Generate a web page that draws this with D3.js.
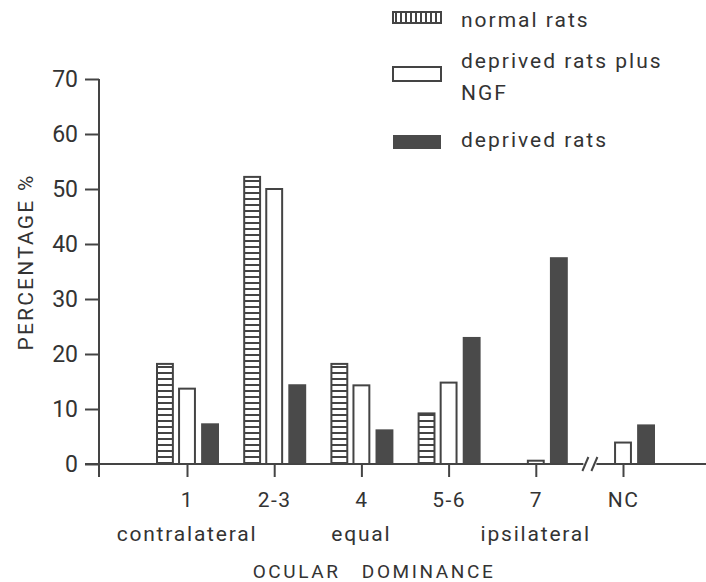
<!DOCTYPE html>
<html>
<head>
<meta charset="utf-8">
<script src="https://cdn.jsdelivr.net/npm/d3@7"></script>
<style>
  body { margin: 0; background: #fff; }
  svg { display: block; font-family: Roboto, "Liberation Sans", sans-serif; }
  text { fill: #333; }
</style>
</head>
<body>
<svg id="chart" width="706" height="582"></svg>
<script>
// values (percent of cells)
var categories = ['1', '2-3', '4', '5-6', '7', 'NC'];
var series = ['normal', 'ngf', 'deprived'];
var normalRats = [18.2, 52.2, 18.2, 9.2, null, null];
var ngfRats = [13.7, 50.0, 14.3, 14.8, 0.6, 3.9];
var deprivedRats = [7.4, 14.5, 6.3, 23.1, 37.6, 7.2];
var yTicks = [0, 10, 20, 30, 40, 50, 60, 70];
var groupLabels = [['1', 'contralateral'], ['4', 'equal'], ['7', 'ipsilateral']];
var legendLabels = [['normal rats'], ['deprived rats plus', 'NGF'], ['deprived rats']];

var ink = '#444';
var svg = d3.select('#chart');

var y = d3.scaleLinear().domain([0, 70]).range([464, 79]);
var x = d3.scalePoint().domain(categories).range([187, 623]);
var xs = d3.scaleBand().domain(series).range([-30, 30]).paddingInner(0.28);

// stripe patterns: horizontal rungs for bars, vertical for the legend key
var defs = svg.append('defs');
defs.append('pattern').attr('id', 'rungs').attr('patternUnits', 'userSpaceOnUse')
  .attr('width', 8).attr('height', 6)
  .append('rect').attr('width', 8).attr('height', 2).attr('fill', ink);
defs.append('pattern').attr('id', 'rungsV').attr('patternUnits', 'userSpaceOnUse')
  .attr('width', 5).attr('height', 8)
  .append('rect').attr('width', 2).attr('height', 8).attr('fill', ink);

function fillFor(s, legend) {
  if (s === 'normal') return legend ? 'url(#rungsV)' : 'url(#rungs)';
  if (s === 'ngf') return '#fff';
  return '#4a4a4a';
}

// y axis
var yAxis = svg.append('g').attr('transform', 'translate(99,0)')
  .call(d3.axisLeft(y).tickValues(yTicks).tickSize(14).tickPadding(7).tickSizeOuter(0));
yAxis.select('.domain').remove();
yAxis.selectAll('line').attr('stroke', ink).attr('stroke-width', 2);
yAxis.selectAll('text').attr('font-size', 23).attr('fill', '#333')
  .attr('font-family', 'Roboto, sans-serif');
svg.append('line').attr('x1', 99).attr('x2', 99).attr('y1', y(70)).attr('y2', 477)
  .attr('stroke', ink).attr('stroke-width', 2);

// bars
var rows = [];
categories.forEach(function(c, i) {
  [normalRats, ngfRats, deprivedRats].forEach(function(arr, j) {
    if (arr[i] != null) rows.push({cat: c, s: series[j], v: arr[i]});
  });
});
svg.append('g').selectAll('rect').data(rows).enter().append('rect')
  .attr('x', function(d) { return x(d.cat) + xs(d.s); })
  .attr('width', function(d) { return d.s === 'deprived' ? xs.bandwidth() + 2 : xs.bandwidth(); })
  .attr('y', function(d) { return y(d.v); })
  .attr('height', function(d) { return y(0) - y(d.v); })
  .attr('fill', function(d) { return fillFor(d.s, false); })
  .attr('stroke', function(d) { return d.s === 'deprived' ? 'none' : ink; })
  .attr('stroke-width', 2);

// x axis baseline with break before NC
var brk = (x('7') + x('NC')) / 2 + 11;
svg.append('line').attr('x1', 85).attr('x2', brk - 7).attr('y1', y(0)).attr('y2', y(0))
  .attr('stroke', ink).attr('stroke-width', 2);
svg.append('line').attr('x1', brk + 6).attr('x2', 706).attr('y1', y(0)).attr('y2', y(0))
  .attr('stroke', ink).attr('stroke-width', 2);
[-5, 4].forEach(function(o) {
  svg.append('line').attr('x1', brk + o - 3).attr('x2', brk + o + 3)
    .attr('y1', y(0) + 7).attr('y2', y(0) - 7).attr('stroke', ink).attr('stroke-width', 2);
});

var xAxis = svg.append('g').attr('transform', 'translate(0,' + y(0) + ')')
  .call(d3.axisBottom(x).tickSize(13).tickPadding(15).tickSizeOuter(0));
xAxis.select('.domain').remove();
xAxis.selectAll('line').attr('stroke', ink).attr('stroke-width', 2);
xAxis.selectAll('text').attr('font-size', 21).attr('fill', '#333')
  .attr('font-family', 'Roboto, sans-serif').attr('letter-spacing', 1.5);

svg.append('g').selectAll('text').data(groupLabels).enter().append('text')
  .attr('x', function(d) { return x(d[0]); })
  .attr('y', 541).attr('text-anchor', 'middle')
  .attr('font-size', 21).attr('letter-spacing', 1.8)
  .text(function(d) { return d[1]; });

// axis titles
svg.append('text').attr('transform', 'translate(33,262) rotate(-90)')
  .attr('text-anchor', 'middle').attr('font-size', 21).attr('letter-spacing', 2.2)
  .text('PERCENTAGE %');
svg.append('text').attr('x', 374).attr('y', 578).attr('text-anchor', 'middle')
  .attr('font-size', 19).attr('letter-spacing', 2.6).attr('word-spacing', 14)
  .text('OCULAR DOMINANCE');

// legend
var keyTop = [12, 67, 135];
var key = svg.append('g').selectAll('g').data(series).enter().append('g');
key.append('rect')
  .attr('x', 393).attr('y', function(d, i) { return keyTop[i]; })
  .attr('width', 48).attr('height', function(d, i) { return i === 0 ? 11 : 14; })
  .attr('fill', function(d) { return fillFor(d, true); })
  .attr('stroke', function(d) { return d === 'deprived' ? 'none' : ink; })
  .attr('stroke-width', 2);
key.each(function(d, i) {
  var t = d3.select(this).append('text').attr('x', 461).attr('font-size', 21)
    .attr('letter-spacing', 2);
  var base = [27, 68, 147][i];
  legendLabels[i].forEach(function(line, k) {
    t.append('tspan').attr('x', 461).attr('y', base + k * 32).text(line);
  });
});
</script>
</body>
</html>
